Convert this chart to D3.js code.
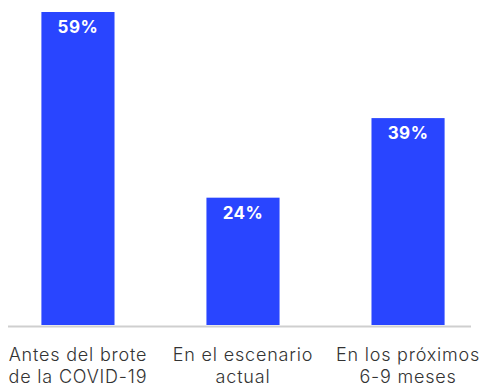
<!DOCTYPE html>
<html>
<head>
<meta charset="utf-8">
<script src="https://cdn.jsdelivr.net/npm/d3@7"></script>
<style>
  body { margin: 0; background: #fff; }
  text { font-family: Inter, "Open Sans", sans-serif; }
</style>
</head>
<body>
<div id="chart"></div>
<script>
// chart data
const categories = ["Antes del brote|de la COVID-19", "En el escenario|actual", "En los próximos|6-9 meses"];
const values = [59, 24, 39];
const valueLabels = ["59%", "24%", "39%"];

const width = 481, height = 388;
const baseline = 325;

const svg = d3.select("#chart").append("svg")
  .attr("width", width)
  .attr("height", height);

const xScale = d3.scaleBand()
  .domain(categories)
  .range([8, 478])
  .paddingInner(0.557)
  .paddingOuter(0.2024);

const yScale = d3.scaleLinear()
  .domain([0, 59])
  .range([baseline, 12]);

const data = categories.map((c, i) => ({ cat: c, value: values[i], label: valueLabels[i] }));

svg.selectAll("rect.bar")
  .data(data)
  .join("rect")
  .attr("class", "bar")
  .attr("x", d => xScale(d.cat))
  .attr("y", d => yScale(d.value))
  .attr("width", xScale.bandwidth())
  .attr("height", d => yScale(0) - yScale(d.value))
  .attr("fill", "#2945ff");

svg.selectAll("text.val")
  .data(data)
  .join("text")
  .attr("class", "val")
  .attr("x", d => xScale(d.cat) + xScale.bandwidth() / 2)
  .attr("y", d => yScale(d.value) + 21)
  .attr("text-anchor", "middle")
  .attr("fill", "#fff")
  .attr("font-size", 17)
  .attr("font-weight", 700)
  .attr("letter-spacing", 0.5)
  .text(d => d.label);

// baseline
svg.append("line")
  .attr("x1", 8).attr("x2", 471)
  .attr("y1", baseline + 1.5).attr("y2", baseline + 1.5)
  .attr("stroke", "#cfcfcf")
  .attr("stroke-width", 2);

// category labels, two lines each
const labels = svg.selectAll("text.cat")
  .data(data)
  .join("text")
  .attr("class", "cat")
  .attr("text-anchor", "middle")
  .attr("fill", "#333")
  .attr("font-size", 18)
  .attr("font-weight", 300)
  .attr("letter-spacing", 0.8);

labels.selectAll("tspan")
  .data(d => d.cat.split("|").map(t => ({ t, x: xScale(d.cat) + xScale.bandwidth() / 2 })))
  .join("tspan")
  .attr("x", d => d.x)
  .attr("y", (d, i) => 361 + i * 22)
  .text(d => d.t);
</script>
</body>
</html>
